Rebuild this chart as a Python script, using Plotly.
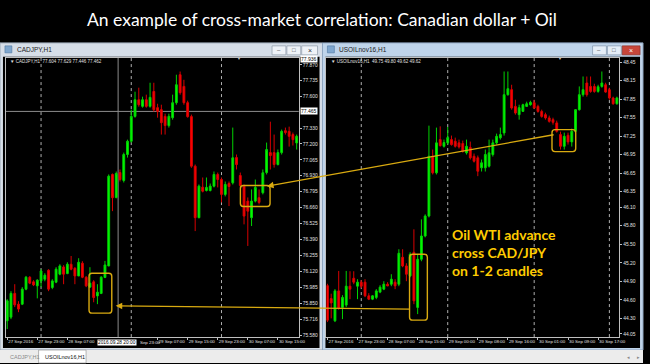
import plotly.graph_objects as go

# ---------------- data ----------------
bars = list(range(78))

cad_open = [75.701, 75.732, 75.933, 75.842, 75.842, 75.969, 76.070, 76.031, 75.997, 76.039,
            76.053, 76.129, 75.983, 76.028, 76.096, 76.157, 76.101, 76.180, 76.146, 76.081,
            76.189, 76.070, 75.986, 76.031, 75.912, 75.933, 76.068, 76.166, 76.941, 76.746,
            76.957, 76.890, 77.110, 77.222, 77.433, 77.574, 77.518, 77.574, 77.518, 77.644,
            77.507, 77.490, 77.433, 77.355, 77.422, 77.549, 77.786, 77.687, 77.549, 77.431,
            77.011, 76.575, 76.833, 76.805, 76.805, 76.842, 76.941, 76.898, 76.772, 76.864,
            76.870, 77.084, 76.932, 76.842, 76.715, 76.575, 76.715, 76.744, 76.786, 76.957,
            77.126, 77.126, 77.025, 77.126, 77.312, 77.306, 77.279, 77.208]
cad_high = [75.884, 75.952, 76.011, 75.867, 75.986, 76.081, 76.079, 76.045, 76.053, 76.138,
            76.104, 76.138, 76.053, 76.155, 76.180, 76.172, 76.197, 76.250, 76.155, 76.231,
            76.206, 76.079, 76.155, 76.045, 76.011, 76.079, 76.208, 76.941, 76.949, 76.966,
            76.983, 77.126, 77.236, 77.490, 77.642, 77.676, 77.600, 77.617, 77.718, 77.718,
            77.540, 77.532, 77.456, 77.456, 77.617, 77.786, 77.813, 77.743, 77.566, 77.448,
            77.025, 76.856, 76.915, 76.915, 76.864, 76.966, 76.957, 76.915, 76.881, 76.881,
            77.338, 77.110, 76.957, 76.856, 76.746, 76.814, 76.898, 76.814, 76.983, 77.211,
            77.388, 77.279, 77.152, 77.321, 77.338, 77.346, 77.296, 77.279]
cad_low = [75.631, 75.715, 75.817, 75.774, 75.834, 75.960, 76.011, 75.995, 75.891, 75.986,
           76.036, 75.952, 75.969, 76.020, 76.087, 76.011, 76.096, 76.129, 76.011, 76.079,
           76.062, 75.986, 75.983, 75.858, 75.842, 75.927, 76.062, 76.163, 76.630, 76.738,
           76.881, 76.873, 77.084, 77.211, 77.422, 77.515, 77.507, 77.507, 77.507, 77.473,
           77.422, 77.279, 77.279, 77.338, 77.405, 77.532, 77.617, 77.532, 77.422, 76.997,
           76.461, 76.569, 76.789, 76.797, 76.797, 76.831, 76.831, 76.704, 76.755, 76.673,
           76.856, 76.983, 76.831, 76.518, 76.335, 76.504, 76.704, 76.687, 76.772, 76.941,
           76.983, 76.999, 77.017, 77.110, 77.279, 77.177, 77.186, 77.152]
cad_close = [75.870, 75.933, 75.836, 75.800, 75.969, 76.070, 76.020, 76.005, 76.045, 76.123,
             76.087, 75.969, 76.039, 76.138, 76.166, 76.096, 76.180, 76.138, 76.081, 76.197,
             76.070, 75.997, 76.020, 75.898, 75.943, 76.070, 76.174, 76.926, 76.744, 76.949,
             76.898, 77.110, 77.222, 77.433, 77.574, 77.532, 77.574, 77.518, 77.594, 77.490,
             77.475, 77.380, 77.355, 77.433, 77.549, 77.701, 77.634, 77.549, 77.431, 77.011,
             76.575, 76.842, 76.799, 76.831, 76.842, 76.941, 76.898, 76.772, 76.856, 76.839,
             77.082, 77.025, 76.847, 76.588, 76.630, 76.715, 76.831, 76.704, 76.955, 77.152,
             77.101, 77.025, 77.126, 77.306, 77.296, 77.264, 77.236, 77.264]

oil_open = [44.830, 44.620, 44.261, 44.745, 44.477, 44.515, 44.821, 44.950, 44.821, 44.886,
            44.886, 44.665, 44.611, 44.639, 44.725, 44.773, 44.853, 44.853, 44.886, 44.853,
            45.289, 45.149, 44.988, 45.370, 44.477, 45.257, 45.634, 45.957, 46.925, 46.657,
            47.195, 47.087, 47.142, 47.195, 47.168, 47.142, 47.131, 46.980, 47.066, 46.925,
            46.900, 46.738, 46.738, 46.764, 46.953, 47.142, 47.223, 47.303, 47.922, 48.003,
            47.733, 47.599, 47.652, 47.733, 47.760, 47.793, 47.733, 47.652, 47.599, 47.546,
            47.518, 47.465, 47.276, 47.087, 47.265, 47.158, 47.329, 47.680, 47.922, 48.111,
            48.056, 48.056, 47.975, 48.056, 48.083, 48.003, 47.869, 47.776]
oil_high = [44.860, 44.700, 44.773, 45.068, 44.676, 45.068, 45.063, 45.063, 44.934, 44.918,
            44.934, 44.708, 44.676, 44.773, 44.837, 44.902, 44.886, 45.015, 44.934, 45.419,
            45.419, 45.192, 45.370, 45.742, 45.338, 45.903, 45.984, 47.421, 47.034, 47.389,
            47.410, 47.195, 47.400, 47.260, 47.227, 47.195, 47.179, 47.195, 47.163, 46.969,
            46.937, 46.872, 47.034, 47.195, 47.195, 47.292, 47.389, 48.298, 48.298, 48.083,
            47.841, 47.760, 47.776, 47.809, 47.825, 47.841, 47.760, 47.680, 47.631, 47.583,
            47.550, 47.502, 47.324, 47.308, 47.308, 47.373, 47.680, 48.056, 48.217, 48.217,
            48.217, 48.100, 48.083, 48.298, 48.116, 48.035, 47.890, 47.890]
oil_low = [44.240, 44.300, 44.240, 44.440, 44.288, 44.483, 44.611, 44.853, 44.611, 44.789,
           44.644, 44.596, 44.596, 44.611, 44.708, 44.757, 44.821, 44.821, 44.773, 44.821,
           45.128, 44.902, 44.966, 44.530, 44.369, 45.225, 45.612, 45.935, 46.630, 46.630,
           47.082, 47.066, 47.114, 47.098, 47.066, 47.050, 46.985, 46.953, 46.872, 46.824,
           46.603, 46.678, 46.678, 46.743, 46.921, 47.114, 47.195, 47.260, 47.906, 47.680,
           47.599, 47.518, 47.647, 47.728, 47.744, 47.696, 47.631, 47.550, 47.518, 47.470,
           47.437, 47.308, 47.034, 47.034, 47.114, 47.082, 47.308, 47.664, 47.890, 47.890,
           47.954, 47.954, 47.954, 48.035, 47.954, 47.841, 47.760, 47.760]
oil_close = [44.270, 44.550, 44.745, 44.460, 44.639, 44.821, 44.773, 44.886, 44.886, 44.821,
             44.665, 44.611, 44.665, 44.745, 44.805, 44.853, 44.826, 44.934, 44.826, 45.354,
             45.149, 45.015, 45.338, 44.584, 45.257, 45.634, 45.957, 46.925, 46.657, 47.142,
             47.098, 47.147, 47.227, 47.114, 47.087, 47.077, 47.006, 47.087, 46.900, 46.845,
             46.683, 46.819, 46.953, 46.980, 47.142, 47.248, 47.276, 47.922, 48.019, 47.707,
             47.626, 47.712, 47.760, 47.776, 47.798, 47.707, 47.652, 47.571, 47.546, 47.491,
             47.475, 47.329, 47.087, 47.248, 47.158, 47.329, 47.680, 47.922, 48.003, 47.922,
             47.975, 47.975, 48.051, 48.111, 47.965, 47.869, 47.776, 47.869]

# price scale labels (77.465 is shown as the highlighted crosshair label)
cad_price_labels = ["77.870", "77.735", "77.600", "77.330", "77.200", "77.065", "76.930",
                    "76.795", "76.660", "76.525", "76.390", "76.255", "76.120", "75.985", "75.850",
                    "75.716", "75.580"]
cad_crosshair_label = "77.465"
cad_top_label = "77.936"
cad_crosshair_time = "2016.09.28 20:00"
oil_price_labels = ["48.45", "48.15", "47.85", "47.55", "47.25", "46.95", "46.65", "46.35",
                    "46.10", "45.80", "45.50", "45.20", "44.90", "44.60", "44.30", "44.05"]
# CADJPY time labels (labels at bars 24 and 32 are mostly hidden by the crosshair time box)
cad_tick_bars = [0, 8, 16, 40, 48, 56, 64, 72]
cad_time_labels = ["27 Sep 2016", "27 Sep 23:00", "28 Sep 07:00",
                   "29 Sep 07:00", "29 Sep 15:00", "29 Sep 23:00", "30 Sep 07:00", "30 Sep 15:00"]
cad_partial_label = "Sep 23:00"
oil_tick_bars = [0, 8, 16, 24, 32, 40, 48, 56, 64, 72]
oil_time_labels = ["27 Sep 2016", "27 Sep 23:00", "28 Sep 07:00", "28 Sep 15:00", "29 Sep 00:00",
                   "29 Sep 08:00", "29 Sep 16:00", "30 Sep 01:00", "30 Sep 09:00", "30 Sep 17:00"]
cad_separators = [9, 33, 57]
oil_separators = [9, 32, 55, 75]

# ---------------- helpers ----------------
W, H = 650, 364
def px(x):
    return x / W
def py(y):
    return 1 - y / H

UP_FILL, UP_LINE = "#00ff00", "#00d200"
DN_FILL, DN_LINE = "#ff0000", "#d80000"
GOLD = "#d9aa10"
TXT = "#e0e0e0"
YFONT = dict(family="Liberation Sans", size=4.9, color=TXT)
XFONT = dict(family="Liberation Sans", size=4.4, color=TXT)

fig = go.Figure()
fig.add_trace(go.Candlestick(
    x=bars, open=cad_open, high=cad_high, low=cad_low, close=cad_close,
    increasing=dict(line=dict(color=UP_LINE, width=1), fillcolor=UP_FILL),
    decreasing=dict(line=dict(color=DN_LINE, width=1), fillcolor=DN_FILL),
    whiskerwidth=0, xaxis="x", yaxis="y", showlegend=False, hoverinfo="skip"))
fig.add_trace(go.Candlestick(
    x=bars, open=oil_open, high=oil_high, low=oil_low, close=oil_close,
    increasing=dict(line=dict(color=UP_LINE, width=1), fillcolor=UP_FILL),
    decreasing=dict(line=dict(color=DN_LINE, width=1), fillcolor=DN_FILL),
    whiskerwidth=0, xaxis="x2", yaxis="y2", showlegend=False, hoverinfo="skip"))

shapes = []
def rect(x0, y0, x1, y1, fill, line=None, lw=0, layer="below"):
    shapes.append(dict(type="rect", xref="paper", yref="paper",
                       x0=px(x0), x1=px(x1), y0=py(y1), y1=py(y0),
                       fillcolor=fill, line=dict(color=line or fill, width=lw), layer=layer))

def rrect(x0, y0, x1, y1, r, color, lw=1.4):
    pts = (f"M {px(x0+r)},{py(y0)} L {px(x1-r)},{py(y0)} Q {px(x1)},{py(y0)} {px(x1)},{py(y0+r)} "
           f"L {px(x1)},{py(y1-r)} Q {px(x1)},{py(y1)} {px(x1-r)},{py(y1)} "
           f"L {px(x0+r)},{py(y1)} Q {px(x0)},{py(y1)} {px(x0)},{py(y1-r)} "
           f"L {px(x0)},{py(y0+r)} Q {px(x0)},{py(y0)} {px(x0+r)},{py(y0)} Z")
    shapes.append(dict(type="path", xref="paper", yref="paper", path=pts,
                       line=dict(color=color, width=lw), layer="above"))

# window chrome
rect(0, 43, 326, 351, "#d6dee8", "#9aa7b6", 1)
rect(326, 43, 650, 351, "#bfd4ea", "#8fa6c0", 1)
rect(3, 57, 323, 349, "#000000")
rect(329, 57, 647, 349, "#000000")
rect(5, 46, 12, 53, "#7fa7cf", "#4f77a0", 0.6)
rect(331, 46, 338, 53, "#7fa7cf", "#4f77a0", 0.6)
for (a, b) in [(275, 289), (290, 304), (305, 321)]:
    rect(a, 46, b, 55, "#eef2f7", "#8c99a8", 0.7)
for (a, b) in [(599, 613), (614, 628)]:
    rect(a, 46, b, 55, "#e4edf7", "#7f93aa", 0.7)
rect(629, 46, 647, 55, "#c8463a", "#8e3028", 0.7)
rect(0, 351, 650, 364, "#ececec")
rect(39, 351, 87, 364, "#ffffff", "#9a9a9a", 0.7)

for b in cad_separators:
    shapes.append(dict(type="line", xref="x", yref="y domain", x0=b, x1=b, y0=0, y1=1,
                       line=dict(color="#b0b0b0", width=1, dash="dot"), layer="below"))
for b in oil_separators:
    shapes.append(dict(type="line", xref="x2", yref="y2 domain", x0=b, x1=b, y0=0, y1=1,
                       line=dict(color="#b0b0b0", width=1, dash="dot"), layer="below"))
shapes.append(dict(type="line", xref="x", yref="y domain", x0=29.5, x1=29.5, y0=0, y1=1,
                   line=dict(color="#8c8c8c", width=1), layer="below"))
shapes.append(dict(type="line", xref="x domain", yref="y", x0=0, x1=1, y0=77.475, y1=77.475,
                   line=dict(color="#8c8c8c", width=1), layer="below"))

rrect(90, 274, 113, 314, 3, GOLD)
rrect(243, 186, 273, 207, 3, GOLD)
rrect(414, 255, 432, 321, 3, GOLD)
rrect(558, 130, 582, 152, 3, GOLD)

ann = []
def text(x, y, s, size=5, color=TXT, anchor="left", family="Liberation Sans", bg=None, bold=False):
    d = dict(x=px(x), y=py(y), xref="paper", yref="paper", text=f"<b>{s}</b>" if bold else s,
             showarrow=False, xanchor=anchor, yanchor="middle",
             font=dict(family=family, size=size, color=color))
    if bg:
        d.update(bgcolor=bg, borderpad=0)
    ann.append(d)

text(325, 20, "An example of cross-market correlation: Canadian dollar + Oil", size=17.5,
     color="#ffffff", anchor="center", family="Lato")
text(15, 50, "CADJPY,H1", size=6.5, color="#222222")
text(341, 50, "USOILnov16,H1", size=6.5, color="#222222")
text(282, 50.5, "–", size=6, color="#333333", anchor="center")
text(297, 50.5, "□", size=6, color="#333333", anchor="center")
text(313, 50.5, "×", size=7, color="#333333", anchor="center")
text(606, 50.5, "–", size=6, color="#333333", anchor="center")
text(621, 50.5, "□", size=6, color="#333333", anchor="center")
text(638, 50.5, "×", size=7, color="#ffffff", anchor="center")
text(8, 62, "▼ CADJPY,H1  77.604 77.629 77.446 77.462", size=4.5)
text(333, 62, "▼ USOILnov16,H1  49.75 49.80 49.62 49.62", size=4.5)
text(312.5, 59, cad_top_label, size=5, color="#000000", anchor="center", bg="#ffffff")
text(312.5, 111.7, cad_crosshair_label, size=5, color="#000000", anchor="center", bg="#ffffff")
text(118, 343, cad_crosshair_time, size=4.8, color="#000000", anchor="center", bg="#ffffff")
text(139, 343, cad_partial_label, size=4.4, color=TXT)
text(242, 58.5, "▼", size=4, color="#c8c8c8", anchor="center")
text(566, 58.5, "▼", size=4, color="#c8c8c8", anchor="center")
text(8, 357.5, "CADJPY,H1", size=5.5, color="#8a8a8a")
text(43, 357.5, "USOILnov16,H1", size=5.5, color="#111111")
text(635, 357.5, "◂", size=5, color="#888888", anchor="center")
text(645, 357.5, "▸", size=5, color="#888888", anchor="center")
for i, s in enumerate(["Oil WTI advance", "cross CAD/JPY", "on 1-2 candles"]):
    text(455, 235 + 18.3 * i, s, size=14, color="#ffcc00", family="Lato", bold=True)

ann.append(dict(x=px(117), y=py(306.7), xref="paper", yref="paper", ax=295, ay=3.3,
                axref="pixel", ayref="pixel", text="", showarrow=True, arrowhead=2,
                arrowsize=1, arrowwidth=1.3, arrowcolor=GOLD, standoff=0))
ann.append(dict(x=px(270), y=py(186.7), xref="paper", yref="paper", ax=288, ay=-51.7,
                axref="pixel", ayref="pixel", text="", showarrow=True, arrowhead=2,
                arrowsize=1, arrowwidth=1.3, arrowcolor=GOLD, standoff=0))

common_x = dict(showgrid=False, zeroline=False, showline=True, mirror=True, linecolor="#bfbfbf",
                linewidth=1, ticks="outside", ticklen=2, tickcolor="#bfbfbf", tickfont=XFONT,
                tickangle=0, ticklabelposition="outside right", ticklabelstandoff=0,
                rangeslider=dict(visible=False), fixedrange=True)
common_y = dict(showgrid=False, zeroline=False, showline=True, mirror=True, linecolor="#bfbfbf",
                linewidth=1, ticks="outside", ticklen=2, tickcolor="#bfbfbf", tickfont=YFONT,
                side="right", fixedrange=True)

fig.update_layout(
    width=W, height=H, margin=dict(l=0, r=0, t=0, b=0),
    paper_bgcolor="#000000", plot_bgcolor="#000000",
    xaxis=dict(domain=[px(6), px(302)], range=[-0.342, 77.553], anchor="y",
               tickvals=cad_tick_bars, ticktext=cad_time_labels, **common_x),
    yaxis=dict(domain=[py(338), py(58)], range=[75.563, 77.929], anchor="x",
               tickvals=[float(v) for v in cad_price_labels], ticktext=cad_price_labels, **common_y),
    xaxis2=dict(domain=[px(330), px(626)], range=[-0.263, 77.63], anchor="y2",
                tickvals=oil_tick_bars, ticktext=oil_time_labels, **common_x),
    yaxis2=dict(domain=[py(338), py(58)], range=[43.997, 48.519], anchor="x2",
                tickvals=[float(v) for v in oil_price_labels], ticktext=oil_price_labels, **common_y),
    shapes=shapes, annotations=ann, showlegend=False,
)

fig.write_html("out.html")
